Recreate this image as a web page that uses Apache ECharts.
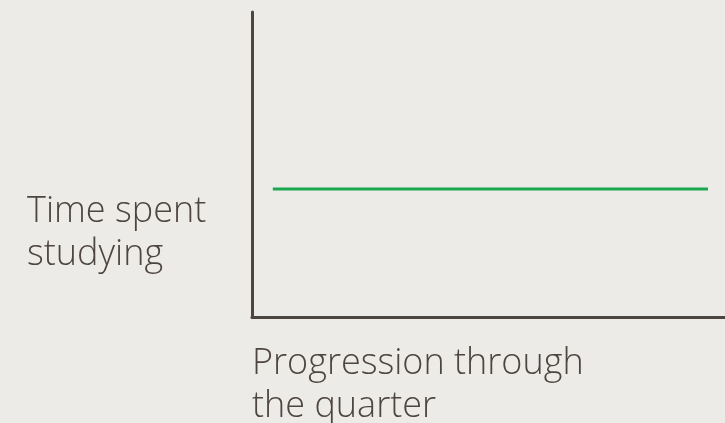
<!DOCTYPE html>
<html>
<head>
<meta charset="utf-8">
<script src="https://cdn.jsdelivr.net/npm/echarts@6/dist/echarts.min.js"></script>
<style>
  html, body { margin: 0; padding: 0; background: #edebe8; }
  #chart { width: 725px; height: 423px; }
</style>
</head>
<body>
<div id="chart"></div>
<script>
// progression (0-100) and time spent (0-100), flat line
const progression = [4.4, 96.4]
const timeSpent = [42, 42]
const yLabel = 'Time spent\nstudying'
const xLabel = 'Progression through\nthe quarter'

const ink = '#4d4540'
const chart = echarts.init(document.getElementById('chart'))

chart.setOption({
  backgroundColor: '#edebe8',
  animation: false,
  grid: { left: 252, top: 12, right: 0, bottom: 106 },
  xAxis: {
    type: 'value', min: 0, max: 100,
    axisLine: { show: true, lineStyle: { color: ink, width: 3 } },
    axisTick: { show: false }, axisLabel: { show: false }, splitLine: { show: false }
  },
  yAxis: {
    type: 'value', min: 0, max: 100,
    axisLine: { show: true, lineStyle: { color: ink, width: 3 } },
    axisTick: { show: false }, axisLabel: { show: false }, splitLine: { show: false }
  },
  graphic: [
    {
      type: 'text', left: 27, top: 190,
      style: { text: yLabel, fill: ink, font: '300 36px "Open Sans"', lineHeight: 43 }
    },
    {
      type: 'text', left: 252, top: 342,
      style: { text: xLabel, fill: ink, font: '300 36px "Open Sans"', lineHeight: 43 }
    }
  ],
  series: [{
    type: 'line',
    data: progression.map((x, i) => [x, timeSpent[i]]),
    symbol: 'none',
    lineStyle: { color: '#1aa84f', width: 3 }
  }]
})
</script>
</body>
</html>
